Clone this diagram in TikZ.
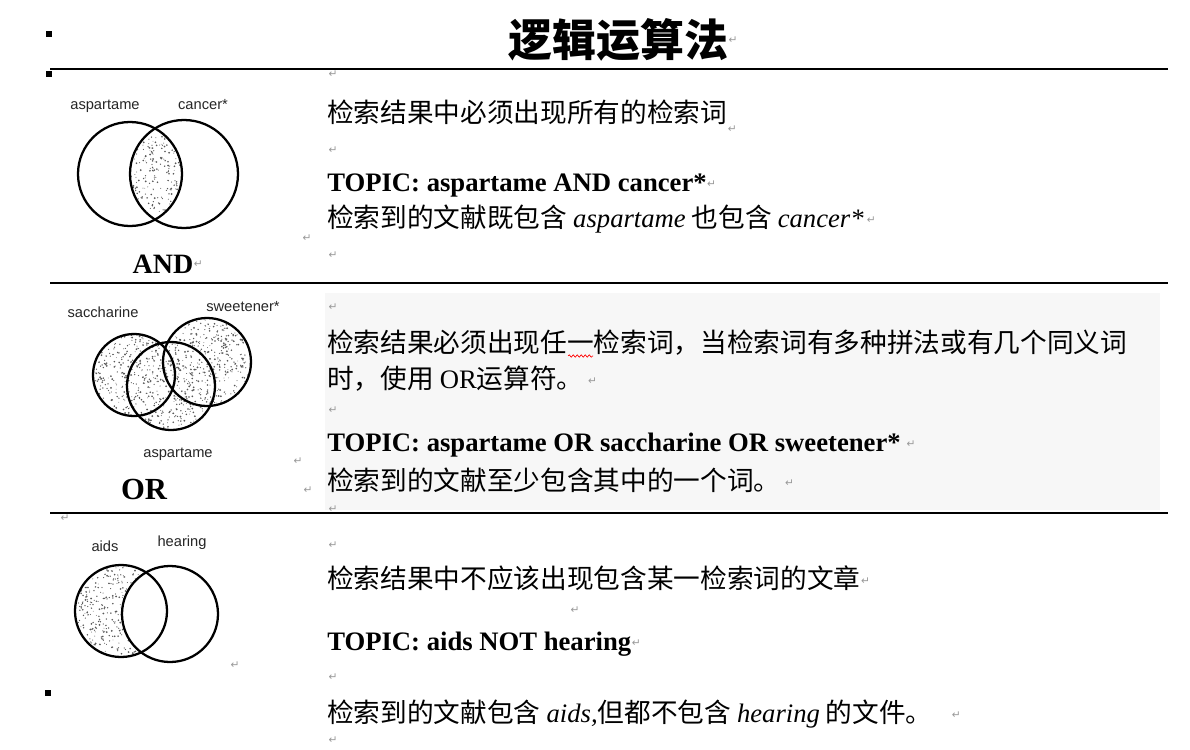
\documentclass[tikz,border=0pt]{standalone}
\usepackage{fontspec}
\setmainfont{Liberation Serif}
\setsansfont{Liberation Sans}
\newfontfamily\cjk{Noto Sans CJK SC}
\newfontfamily\symf{DejaVu Sans}
\usetikzlibrary{decorations.pathmorphing}
\newcommand\myspecks[5]{%
  \foreach \i in {1,...,#5}{%
    \pgfmathsetmacro\sx{#1+rnd*(#2-#1)}%
    \pgfmathsetmacro\sy{#3+rnd*(#4-#3)}%
    \pgfmathsetmacro\sok{\specktest}%
    \ifdim\sok pt>0.5pt \fill[speck] (\sx,\sy) circle[radius=0.4+0.6*rnd];\fi
  }}
\begin{document}
\begin{tikzpicture}[x=0.75pt,y=-0.75pt,
  cn/.style={anchor=base west, inner sep=0pt, font=\cjk\fontsize{20}{24}\selectfont},
  topic/.style={anchor=base west, inner sep=0pt, font=\bfseries\fontsize{20}{24}\selectfont},
  lbl/.style={inner sep=0pt, text=black!85, font=\sffamily\fontsize{11}{13}\selectfont},
  op/.style={inner sep=0pt, font=\bfseries\fontsize{21}{25}\selectfont},
  ret/.style={inner sep=0pt, text=black!40, font=\symf\fontsize{8}{9}\selectfont},
  venn/.style={line width=1.7pt},
  rulel/.style={line width=1.3pt},
  speck/.style={fill=black!65},
  bul/.style={fill=black}]
\useasboundingbox (0,0) rectangle (1190,750);
\fill[white] (0,0) rectangle (1190,750);
\pgfmathsetseed{7}

% title and bullets
\node[inner sep=0pt, font=\cjk\bfseries\fontsize{33}{38}\selectfont] (title) at (618,40) {逻辑运算法};
\node[ret, anchor=west] (rt) at (title.east) {↵};
\fill[bul] (46,31) rectangle (52,37);
\fill[bul] (46,71) rectangle (52,77);
\fill[bul] (45,690) rectangle (51,696);

% rules and shaded band
\fill[black!3] (325,293) rectangle (1160,510);
\draw[line width=1.6pt] (50,69) -- (1168,69);
\draw[rulel] (50,283) -- (1168,283);
\draw[rulel] (50,513) -- (1168,513);

% ---------- AND ----------
\begin{scope}
\def\specktest{and(veclen(\sx-130,\sy-174)<51,veclen(\sx-184,\sy-174)<53)}
\myspecks{128}{184}{122}{228}{300}
\end{scope}
\draw[venn] (130,174) circle[radius=52];
\draw[venn] (184,174) circle[radius=54];
\node[lbl] (l1) at (105,106) {aspartame};
\node[lbl] (l2) at (203,105) {cancer*};
\node[op] (and) at (163,264) {AND};
\node[ret, anchor=west] at (and.east) {↵};
\node[ret] at (307,238) {↵};

\node[ret] at (333,74) {↵};
\node[cn] (t11) at (327,122) {检索结果中必须出现所有的检索词};
\node[ret, anchor=west] at ([yshift=-5pt]t11.base east) {↵};
\node[ret] at (333,150) {↵};
\node[topic] (t12) at (327,191) {TOPIC: aspartame AND cancer*};
\node[ret, anchor=west] at ([yshift=5pt]t12.base east) {↵};
\node[cn] (t13) at (327,227) {检索到的文献既包含 {\rmfamily\itshape aspartame} 也包含 {\rmfamily\itshape cancer*}};
\node[ret, anchor=west] at ([xshift=2pt,yshift=5pt]t13.base east) {↵};
\node[ret] at (333,255) {↵};

% ---------- OR ----------
\begin{scope}
\def\specktest{or(or(veclen(\sx-134,\sy-375)<41,veclen(\sx-207,\sy-362)<43),veclen(\sx-171,\sy-386)<43)}
\myspecks{92}{252}{318}{431}{1150}
\end{scope}
\draw[venn] (134,375) circle[radius=41];
\draw[venn] (207,362) circle[radius=44];
\draw[venn] (171,386) circle[radius=44];
\node[lbl] (l3) at (103,312) {saccharine};
\node[lbl] (l4) at (243,307) {sweetener*};
\node[lbl] (l5) at (178,454) {aspartame};
\node[op, font=\bfseries\fontsize{23}{27}\selectfont] (or) at (144,489) {OR};
\node[ret] at (298,461) {↵};
\node[ret] at (308,490) {↵};
\node[ret] at (65,518) {↵};

\node[ret] at (333,307) {↵};
\node[cn] (t21) at (327,352) {检索结果必须出现任一检索词，当检索词有多种拼法或有几个同义词};
\draw[red, line width=0.5pt, decorate, decoration={snake, amplitude=0.9pt, segment length=3pt}] (568,356) -- (593,356);
\node[cn] (t22) at (327,388) {时，使用 {\rmfamily OR}运算符。};
\node[ret, anchor=west] at ([xshift=3pt,yshift=5pt]t22.base east) {↵};
\node[ret] at (333,410) {↵};
\node[topic] (t23) at (327,451) {TOPIC: aspartame OR saccharine OR sweetener*};
\node[ret, anchor=west] at ([xshift=4pt,yshift=5pt]t23.base east) {↵};
\node[cn] (t24) at (327,490) {检索到的文献至少包含其中的一个词。};
\node[ret, anchor=west] at ([xshift=3pt,yshift=5pt]t24.base east) {↵};
\node[ret] at (333,509) {↵};

% ---------- NOT ----------
\begin{scope}
\def\specktest{and(veclen(\sx-121,\sy-611)<45,veclen(\sx-170,\sy-614)>48)}
\myspecks{75}{168}{564}{658}{480}
\end{scope}
\draw[venn] (121,611) circle[radius=46];
\draw[venn] (170,614) circle[radius=48];
\node[lbl] (l6) at (105,546) {aids};
\node[lbl] (l7) at (182,543) {hearing};
\node[ret] at (235,665) {↵};

\node[ret] at (333,545) {↵};
\node[cn] (t31) at (327,588) {检索结果中不应该出现包含某一检索词的文章};
\node[ret, anchor=west] at ([yshift=5pt]t31.base east) {↵};
\node[ret] at (575,610) {↵};
\node[topic] (t32) at (327,650) {TOPIC: aids NOT hearing};
\node[ret, anchor=west] at ([yshift=5pt]t32.base east) {↵};
\node[ret] at (333,677) {↵};
\node[cn] (t33) at (327,722) {检索到的文献包含 {\rmfamily\itshape aids,}但都不包含 {\rmfamily\itshape hearing} 的文件。};
\node[ret, anchor=west] at ([xshift=14pt,yshift=5pt]t33.base east) {↵};
\node[ret] at (333,740) {↵};
\end{tikzpicture}
\end{document}
